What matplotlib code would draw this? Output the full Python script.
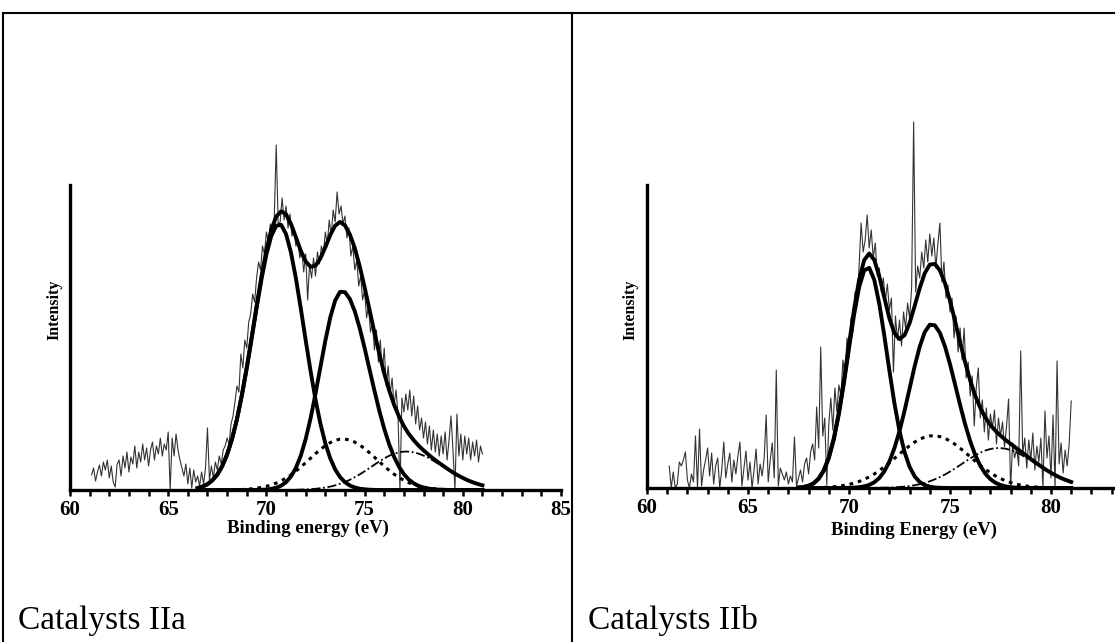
import matplotlib
matplotlib.use('Agg')
import matplotlib.pyplot as plt
import numpy as np
from matplotlib.lines import Line2D
from matplotlib.ticker import FixedLocator, MultipleLocator

W, H = 1115, 642

# raw spectra, 0.1 eV steps from 61.1 eV
RAW_START = 61.1
RAW_STEP = 0.1
raw_a = [
    15, 22, 9, 18, 25, 14, 28, 20, 30, 12,
    24, 8, 3, 26, 30, 14, 34, 22, 38, 18,
    33, 26, 44, 22, 38, 28, 46, 30, 42, 24,
    40, 48, 30, 44, 36, 52, 34, 46, 40, 58,
    0, 52, 34, 56, 40, 30, 22, 14, 26, 6,
    22, 2, 20, 8, 14, 4, 18, 6, 22, 62,
    10, 24, 12, 28, 20, 34, 26, 40, 44, 52,
    46, 66, 74, 88, 104, 98, 136, 122, 150, 142,
    168, 176, 196, 188, 212, 228, 220, 244, 236, 258,
    248, 266, 256, 272, 345, 266, 268, 292, 270, 284,
    262, 276, 254, 262, 244, 250, 232, 240, 218, 236,
    190, 226, 212, 232, 214, 238, 226, 244, 236, 258,
    246, 270, 254, 280, 268, 298, 276, 284, 266, 274,
    252, 262, 234, 244, 220, 230, 204, 214, 190, 200,
    172, 184, 158, 168, 140, 160, 128, 150, 118, 142,
    104, 124, 96, 112, 84, 100, 76, 0, 92, 78,
    96, 80, 100, 74, 94, 66, 84, 60, 72, 52,
    68, 46, 64, 40, 60, 38, 56, 34, 54, 36,
    58, 30, 50, 74, 40, 0, 76, 34, 56, 30,
    54, 36, 52, 30, 48, 34, 50, 28, 44, 36,
]
raw_b = [
    22, 0, 16, 0, 4, 26, 22, 28, 36, 8,
    0, 14, 6, 52, 0, 59, 2, 18, 28, 40,
    12, 35, 4, 22, 30, 0, 18, 46, 10, 24,
    35, 6, 28, 14, 32, 46, 2, 20, 37, 8,
    26, 0, 18, 39, 4, 24, 12, 30, 73, 6,
    28, 45, 10, 118, 2, 20, 14, 8, 16, 4,
    12, 6, 51, 2, 10, 18, 6, 24, 30, 14,
    36, 44, 28, 81, 40, 141, 52, 70, 3, 64,
    90, 58, 100, 76, 103, 92, 128, 112, 150, 136,
    170, 156, 196, 182, 222, 265, 236, 248, 273, 240,
    258, 230, 245, 212, 220, 196, 210, 188, 204, 178,
    190, 116, 172, 148, 168, 142, 176, 160, 185, 170,
    200, 366, 196, 222, 210, 236, 220, 248, 226, 254,
    232, 250, 220, 244, 265, 206, 226, 190, 203, 176,
    190, 150, 172, 136, 160, 128, 160, 110, 126, 92,
    112, 62, 100, 120, 70, 88, 56, 80, 48, 74,
    60, 78, 44, 70, 52, 66, 41, 62, 89, 0,
    45, 30, 40, 22, 137, 34, 50, 20, 48, 28,
    55, 18, 42, 26, 50, 0, 77, 30, 52, 10,
    73, 0, 127, 24, 45, 15, 38, 22, 44, 87,
]

# fitted components, 0.25 eV steps
FIT_STEP = 0.25
FIT_START_A = 66.5
peak1_a = [1.9, 3.4, 5.8, 9.7, 15.4, 23.8, 35.5, 50.9, 70.6, 94.4,
           121.8, 151.6, 182.0, 210.8, 235.6, 254.1, 264.3, 265.2, 255.9, 237.5,
           211.9, 181.7, 149.8, 118.8, 90.5, 66.3, 46.7, 31.7, 20.6, 12.9,
           7.8, 4.5, 2.5, 1.3, 0.7, 0.3, 0.1, 0, 0, 0,
           0, 0, 0, 0, 0, 0, 0, 0, 0, 0,
           0, 0, 0, 0, 0, 0, 0, 0, 0]
peak2_a = [0, 0, 0, 0, 0, 0, 0, 0, 0, 0,
           0, 0, 0.1, 0.2, 0.5, 1.1, 2.3, 4.3, 7.8, 13.5,
           22.0, 34.3, 50.9, 71.8, 96.3, 122.9, 149.2, 172.4, 189.5, 198.2,
           197.9, 191.0, 178.7, 161.9, 142.0, 120.7, 99.4, 79.2, 61.2, 45.8,
           33.2, 23.3, 15.8, 10.4, 6.7, 4.1, 2.5, 1.4, 0.8, 0.4,
           0.2, 0.1, 0, 0, 0, 0, 0, 0, 0]
peak3_a = [0, 0, 0, 0, 0, 0.1, 0.1, 0.2, 0.3, 0.5,
           0.8, 1.2, 1.8, 2.6, 3.7, 5.1, 6.9, 9.2, 11.9, 15.1,
           18.8, 22.9, 27.3, 31.8, 36.3, 40.6, 44.3, 47.4, 49.6, 50.8,
           50.9, 49.9, 47.9, 45.0, 41.4, 37.2, 32.8, 28.2, 23.8, 19.6,
           15.8, 12.5, 9.7, 7.3, 5.4, 3.9, 2.8, 1.9, 1.3, 0.9,
           0.6, 0.4, 0.2, 0.1, 0.1, 0, 0, 0, 0]
peak4_a = [0, 0, 0, 0, 0, 0, 0, 0, 0, 0,
           0, 0, 0, 0, 0, 0, 0, 0, 0.1, 0.1,
           0.2, 0.4, 0.55, 0.8, 1.2, 1.8, 2.5, 3.4, 4.6, 6.2,
           8.0, 10.2, 12.8, 15.6, 18.7, 22.0, 25.3, 28.6, 31.6, 34.2,
           36.3, 37.7, 38.4, 38.4, 37.7, 36.3, 34.4, 32.1, 29.3, 26.4,
           23.4, 20.3, 17.3, 14.6, 12.0, 9.7, 7.8, 6.1, 4.7]

FIT_START_B = 67.5
peak1_b = [0.4, 0.9, 2.2, 4.6, 9.2, 17.2, 29.9, 48.7, 74.0, 105.2,
           139.6, 173.2, 200.8, 217.6, 220.2, 208.3, 184.1, 152.1, 117.4, 84.6,
           57.0, 35.9, 21.1, 11.6, 6.0, 2.9, 1.3, 0.5, 0.2, 0.1,
           0, 0, 0, 0, 0, 0, 0, 0, 0, 0,
           0, 0, 0, 0, 0, 0, 0, 0, 0, 0,
           0, 0, 0, 0, 0]
peak2_b = [0, 0, 0, 0, 0, 0, 0, 0, 0, 0.1,
           0.2, 0.4, 0.8, 1.6, 3.1, 5.7, 10.0, 16.7, 26.5, 39.9,
           56.9, 77.2, 99.5, 121.7, 141.3, 155.9, 163.3, 162.7, 155.1, 141.6,
           123.8, 103.6, 83.0, 63.7, 46.8, 32.9, 22.2, 14.3, 8.8, 5.2,
           3.0, 1.6, 0.8, 0.4, 0.2, 0.1, 0, 0, 0, 0,
           0, 0, 0, 0, 0]
peak3_b = [0.1, 0.1, 0.1, 0.2, 0.4, 0.6, 0.8, 1.2, 1.8, 2.6,
           3.6, 4.9, 6.5, 8.6, 11.1, 14.0, 17.4, 21.2, 25.3, 29.6,
           34.0, 38.3, 42.3, 45.9, 48.8, 50.9, 52.1, 52.2, 51.4, 49.7,
           47.0, 43.7, 39.8, 35.6, 31.2, 26.8, 22.6, 18.7, 15.2, 12.1,
           9.5, 7.2, 5.4, 4.0, 2.9, 2.1, 1.4, 1.0, 0.7, 0.4,
           0.3, 0.2, 0.1, 0.1, 0]
peak4_b = [0, 0, 0, 0, 0, 0, 0, 0, 0, 0,
           0, 0, 0, 0, 0.1, 0.1, 0.2, 0.3, 0.4, 0.7,
           1.0, 1.4, 2.0, 2.8, 3.8, 5.1, 6.7, 8.7, 10.9, 13.5,
           16.4, 19.6, 22.9, 26.3, 29.6, 32.6, 35.3, 37.5, 39.0, 39.9,
           39.9, 39.3, 38.0, 36.0, 33.5, 30.6, 27.5, 24.3, 21.0, 17.9,
           14.9, 12.2, 9.8, 7.8, 6.0]

labels_a = [60, 65, 70, 75, 80, 85]
labels_b = [60, 65, 70, 75, 80]   # 85 falls outside the cropped picture

SERIF = 'Liberation Serif'


def draw_panel(ax, raw, fit_start, peaks, xlabel, ytop, major):
    e_raw = RAW_START + RAW_STEP * np.arange(len(raw))
    ax.plot(e_raw, raw, color='#333333', lw=0.8)

    e_fit = fit_start + FIT_STEP * np.arange(len(peaks[0]))
    p1, p2, p3, p4 = [np.array(p) for p in peaks]
    envelope = p1 + p2 + p3 + p4
    ax.plot(e_fit, p3, color='black', lw=2.2, ls=(0, (1.2, 1.6)))
    ax.plot(e_fit, p4, color='black', lw=1.3, ls=(0, (5, 1.5, 1, 1.5)))
    ax.plot(e_fit, p1, color='black', lw=2.8)
    ax.plot(e_fit, p2, color='black', lw=2.8)
    ax.plot(e_fit, envelope, color='black', lw=2.8)

    ax.set_xlim(60, 85)
    ax.set_ylim(0, ytop + 75)
    for s in ['top', 'right']:
        ax.spines[s].set_visible(False)
    ax.spines['left'].set_linewidth(2.4)
    ax.spines['bottom'].set_linewidth(2.4)
    ax.spines['left'].set_bounds(0, ytop)
    ax.set_yticks([])
    ax.xaxis.set_major_locator(FixedLocator(major))
    ax.xaxis.set_minor_locator(MultipleLocator(1))
    ax.tick_params(axis='x', which='both', direction='out', length=4.5, width=1.8, pad=3)
    ax.tick_params(axis='x', which='major', labelsize=15)
    for lab in ax.get_xticklabels():
        lab.set_fontfamily(SERIF)
        lab.set_fontweight('bold')
    ax.set_xlabel(xlabel, fontsize=13.5, fontweight='bold', family=SERIF)
    ax.set_ylabel('Intensity', fontsize=11.5, fontweight='bold', family=SERIF, va='center')


fig = plt.figure(figsize=(W / 100, H / 100), dpi=100)

# left panel: 60 eV at x=70 px, 85 eV at 561 px, baseline y=490 px
ax_a = fig.add_axes([70 / W, (H - 490) / H, 491 / W, 380 / H])
draw_panel(ax_a, raw_a, FIT_START_A, [peak1_a, peak2_a, peak3_a, peak4_a],
           'Binding energy (eV)', 305, labels_a)
ax_a.xaxis.set_label_coords((308 - 70) / 491, (490 - 520) / 380)
ax_a.yaxis.set_label_coords((54 - 70) / 491, (490 - 310) / 380)

# right panel: 60 eV at x=647 px, 20.2 px per eV, baseline y=488 px
ax_b = fig.add_axes([647 / W, (H - 488) / H, 505 / W, 378 / H])
draw_panel(ax_b, raw_b, FIT_START_B, [peak1_b, peak2_b, peak3_b, peak4_b],
           'Binding Energy (eV)', 303, labels_b)
ax_b.xaxis.set_label_coords((914 - 647) / 505, (488 - 522) / 378)
ax_b.yaxis.set_label_coords((630 - 647) / 505, (488 - 310) / 378)

# table borders
for (x0, y0, x1, y1) in [(3, 13, W, 13), (3, 13, 3, H), (572, 13, 572, H)]:
    fig.add_artist(Line2D([x0 / W, x1 / W], [1 - y0 / H, 1 - y1 / H],
                          transform=fig.transFigure, color='black', lw=1.5))

fig.text(18 / W, 1 - 621 / H, 'Catalysts IIa', fontsize=24, family=SERIF, va='center')
fig.text(588 / W, 1 - 621 / H, 'Catalysts IIb', fontsize=24, family=SERIF, va='center')

fig.savefig('out.png', dpi=100)
